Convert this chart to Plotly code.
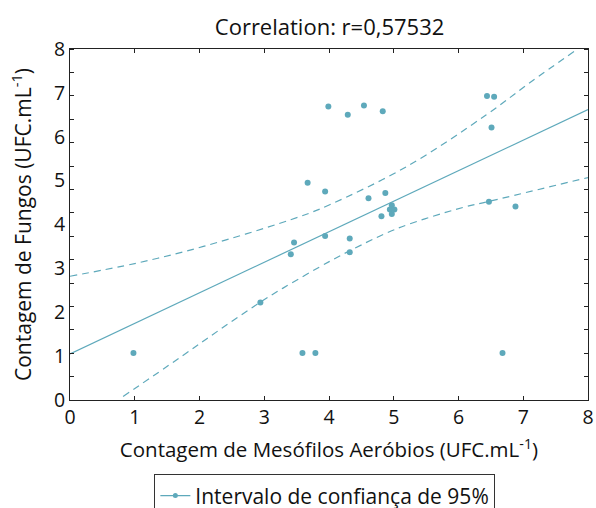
import plotly.graph_objects as go

# Scatter data
mesofilos = [0.98, 2.94, 3.41, 3.46, 3.59, 3.67, 3.79, 3.94, 3.94, 3.99, 4.29, 4.32, 4.32, 4.54,
             4.61, 4.81, 4.83, 4.87, 4.94, 4.97, 4.97, 5.01, 6.44, 6.47, 6.51, 6.55, 6.68, 6.88]
fungos = [1.07, 2.22, 3.32, 3.59, 1.07, 4.95, 1.07, 4.75, 3.74, 6.69, 6.50, 3.68, 3.37, 6.71,
          4.60, 4.19, 6.58, 4.72, 4.34, 4.44, 4.24, 4.34, 6.93, 4.52, 6.21, 6.91, 1.07, 4.41]

# Regression line
fit_x = [0, 8]
fit_y = [1.05, 6.62]

# 95% confidence band
upper_x = [0, 1.03, 2.06, 3.55, 4.01, 5.20, 6.43, 7.10, 7.79]
upper_y = [2.82, 3.12, 3.50, 4.18, 4.45, 5.32, 6.50, 7.23, 7.95]
lower_x = [0.82, 1.70, 2.31, 2.93, 3.29, 4.01, 4.32, 5.04, 6.07, 6.48, 8.0]
lower_y = [0.08, 0.97, 1.60, 2.22, 2.55, 3.16, 3.40, 3.90, 4.39, 4.53, 5.07]

tick_vals = [0, 1, 2, 3, 4, 5, 6, 7, 8]
tick_text = ["0", "1", "2", "3", "4", "5", "6", "7", "8"]

title_text = "Correlation: r=0,57532"
x_title = "Contagem de Mesófilos Aeróbios (UFC.mL<sup>-1</sup>)"
y_title = "Contagem de Fungos (UFC.mL<sup>-1</sup>)"
legend_text = "Intervalo de confiança de 95%"

COLOR = "#5ea9bb"
FONT = "Open Sans"

fig = go.Figure()
fig.add_trace(go.Scatter(x=upper_x, y=upper_y, mode="lines", line=dict(color=COLOR, width=1.2, dash="7px,5px", shape="spline"),
                         showlegend=False, hoverinfo="skip"))
fig.add_trace(go.Scatter(x=lower_x, y=lower_y, mode="lines", line=dict(color=COLOR, width=1.2, dash="7px,5px", shape="spline"),
                         showlegend=False, hoverinfo="skip"))
fig.add_trace(go.Scatter(x=fit_x, y=fit_y, mode="lines", line=dict(color=COLOR, width=1.2), showlegend=False))
fig.add_trace(go.Scatter(x=mesofilos, y=fungos, mode="markers", marker=dict(color=COLOR, size=6), showlegend=False))
fig.add_trace(go.Scatter(x=[None], y=[None], mode="lines+markers", name=legend_text,
                         line=dict(color=COLOR, width=1.2), marker=dict(color=COLOR, size=5), showlegend=True))

axis_common = dict(
    range=[0, 8], showgrid=False, zeroline=False, showline=True, linecolor="#222", linewidth=1,
    mirror="ticks", tickfont=dict(family=FONT, size=19.5, color="#111"),
    tickvals=tick_vals, ticktext=tick_text, automargin=False,
)

fig.update_layout(
    width=596, height=508,
    margin=dict(l=70, r=8, t=49, b=108),
    paper_bgcolor="white", plot_bgcolor="white",
    font=dict(family=FONT, color="#111"),
    title=dict(text=title_text, x=0.553, xanchor="center", y=0.947, yanchor="middle",
               font=dict(family=FONT, size=22, color="#111")),
    xaxis=dict(**axis_common, ticks="inside", ticklen=4, tickcolor="#222",
               title=dict(text=x_title, font=dict(family=FONT, size=20.5, color="#111"), standoff=13)),
    yaxis=dict(**axis_common, ticks="", ticklen=0,
               minor=dict(ticks="inside", ticklen=4, tickcolor="#222", dtick=8/15, tick0=0, showgrid=False),
               title=dict(text=y_title, font=dict(family=FONT, size=21, color="#111"), standoff=16)),
    showlegend=True,
    legend=dict(x=0.492, xanchor="center", yref="container", y=0.066, yanchor="top",
                bordercolor="#333", borderwidth=1, bgcolor="white", maxheight=100,
                font=dict(family=FONT, size=21, color="#111"), itemwidth=30),
)

fig.write_html("out.html", config={"displayModeBar": False},
               post_script="document.body.style.margin='0';")
